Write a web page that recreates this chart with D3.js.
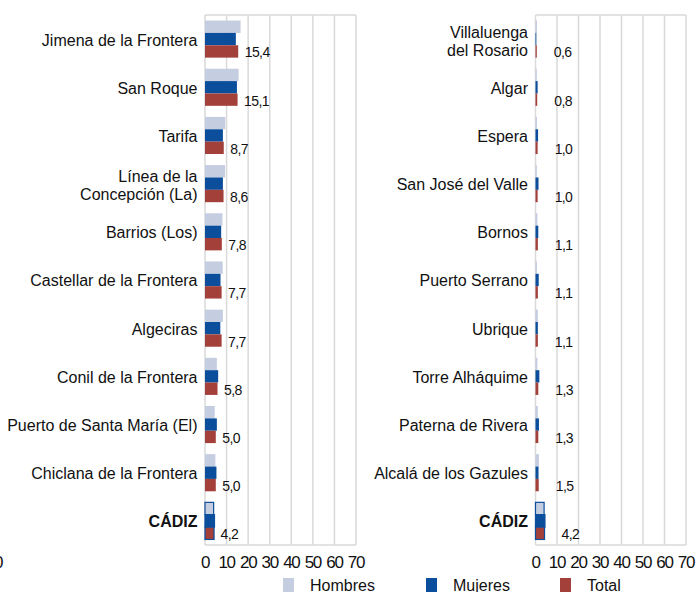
<!DOCTYPE html>
<html>
<head>
<meta charset="utf-8">
<script src="https://cdn.jsdelivr.net/npm/d3@7"></script>
<style>
  body { margin: 0; background: #fff; }
  text { font-family: "Liberation Sans", Arial, sans-serif; fill: #111; }
</style>
</head>
<body>
<div id="vis"></div>
<script>
var width = 696;
var height = 592;

// data
var series = ['Hombres', 'Mujeres', 'Total'];
var colors = ['#c5cde1', '#0b4f9c', '#a3403a'];
var tickValues = [0, 10, 20, 30, 40, 50, 60, 70];

var leftCategories = ['Jimena de la Frontera', 'San Roque', 'Tarifa', 'Línea de la\nConcepción (La)',
  'Barrios (Los)', 'Castellar de la Frontera', 'Algeciras', 'Conil de la Frontera',
  'Puerto de Santa María (El)', 'Chiclana de la Frontera', 'CÁDIZ'];
var leftHombres = [16.5, 15.6, 9.4, 9.3, 8.1, 8.2, 8.3, 5.5, 4.5, 4.8, 4.0];
var leftMujeres = [14.3, 14.8, 8.3, 8.3, 7.5, 7.2, 7.1, 6.1, 5.5, 5.3, 4.4];
var leftTotal = [15.4, 15.1, 8.7, 8.6, 7.8, 7.7, 7.7, 5.8, 5.0, 5.0, 4.2];

var rightCategories = ['Villaluenga\ndel Rosario', 'Algar', 'Espera', 'San José del Valle', 'Bornos',
  'Puerto Serrano', 'Ubrique', 'Torre Alháquime', 'Paterna de Rivera', 'Alcalá de los Gazules', 'CÁDIZ'];
var rightHombres = [0.7, 0.6, 0.7, 0.6, 0.9, 0.7, 1.1, 0.9, 1.1, 1.6, 4.0];
var rightMujeres = [0.4, 1.0, 1.2, 1.4, 1.3, 1.5, 1.1, 1.8, 1.6, 1.4, 4.4];
var rightTotal = [0.6, 0.8, 1.0, 1.0, 1.1, 1.1, 1.1, 1.3, 1.3, 1.5, 4.2];

var svg = d3.select('#vis').append('svg')
  .attr('width', width)
  .attr('height', height);

var plotTop = 15, plotBottom = 545;
var fmt = function (v) { return d3.format('.1f')(v).replace('.', ','); };

function panel(x0, x1, categories, hombres, mujeres, total, labelOffset) {
  var x = d3.scaleLinear().domain([0, 70]).range([x0, x1]);
  var y = d3.scaleBand().domain(categories).range([plotTop, plotBottom])
    .paddingInner(0.23).paddingOuter(0.115);
  var ySub = d3.scaleBand().domain(series).range([0, y.bandwidth()]);
  var g = svg.append('g');

  // grid + frame
  g.selectAll('.grid')
    .data(tickValues)
    .enter().append('line')
    .attr('x1', function (d) { return x(d); })
    .attr('x2', function (d) { return x(d); })
    .attr('y1', plotTop).attr('y2', plotBottom)
    .attr('stroke', '#d9d9d9').attr('stroke-width', 1.5);
  g.selectAll('.hline')
    .data([plotTop, plotBottom])
    .enter().append('line')
    .attr('x1', x(0)).attr('x2', x(70))
    .attr('y1', function (d) { return d; }).attr('y2', function (d) { return d; })
    .attr('stroke', '#d9d9d9').attr('stroke-width', 1.5);

  var values = [hombres, mujeres, total];
  var rows = g.selectAll('.row')
    .data(categories)
    .enter().append('g')
    .attr('transform', function (d) { return 'translate(0,' + y(d) + ')'; });

  series.forEach(function (s, si) {
    rows.append('rect')
      .attr('x', x(0))
      .attr('y', ySub(s))
      .attr('height', ySub.bandwidth())
      .attr('width', function (d, i) { return x(values[si][i]) - x(0); })
      .attr('fill', colors[si])
      .attr('stroke', function (d) { return d === 'CÁDIZ' ? '#0b4f9c' : 'none'; })
      .attr('stroke-width', 1.2);
  });

  // value labels
  rows.append('text')
    .attr('x', function (d, i) { return x(total[i]) + labelOffset; })
    .attr('y', ySub('Total') + ySub.bandwidth() / 2 + 6)
    .attr('font-size', '14px')
    .attr('letter-spacing', '-0.6px')
    .text(function (d, i) { return fmt(total[i]); });

  // category labels
  rows.append('text')
    .attr('text-anchor', 'end')
    .attr('font-size', '16px')
    .attr('font-weight', function (d) { return d === 'CÁDIZ' ? 'bold' : 'normal'; })
    .each(function (d) {
      var lines = d.split('\n');
      var t = d3.select(this);
      var cy = y.bandwidth() / 2 + 6.5 - (lines.length - 1) * 9 + (lines.length > 1 ? 1 : 0);
      lines.forEach(function (line, li) {
        t.append('tspan')
          .attr('x', x0 - 7.5)
          .attr('y', cy + li * 18)
          .text(line);
      });
    });

  // x axis tick labels
  var axis = g.append('g')
    .attr('transform', 'translate(0,' + plotBottom + ')')
    .call(d3.axisBottom(x).tickValues(tickValues).tickSize(0).tickPadding(7));
  axis.select('.domain').remove();
  axis.selectAll('text')
    .attr('font-size', '17px')
    .attr('letter-spacing', '-1.3px')
    .attr('font-family', '"Liberation Sans", Arial, sans-serif')
    .attr('fill', '#111')
    .attr('dx', '-0.5px')
    .attr('dy', '0.95em');
}

panel(205, 356, leftCategories, leftHombres, leftMujeres, leftTotal, 6.5);
panel(535.5, 686, rightCategories, rightHombres, rightMujeres, rightTotal, 17);

// clipped leftover tick label at the left edge
svg.append('text')
  .attr('x', 3.5).attr('y', 568)
  .attr('text-anchor', 'end')
  .attr('font-size', '17px')
  .text('0');

// legend
var legendX = [283, 426, 560];
var legend = svg.selectAll('.legend')
  .data(series)
  .enter().append('g')
  .attr('transform', function (d, i) { return 'translate(' + legendX[i] + ',578)'; });
legend.append('rect')
  .attr('width', 11).attr('height', 14)
  .attr('fill', function (d, i) { return colors[i]; });
legend.append('text')
  .attr('x', 27).attr('y', 13)
  .attr('font-size', '16px')
  .text(function (d) { return d; });
</script>
</body>
</html>
